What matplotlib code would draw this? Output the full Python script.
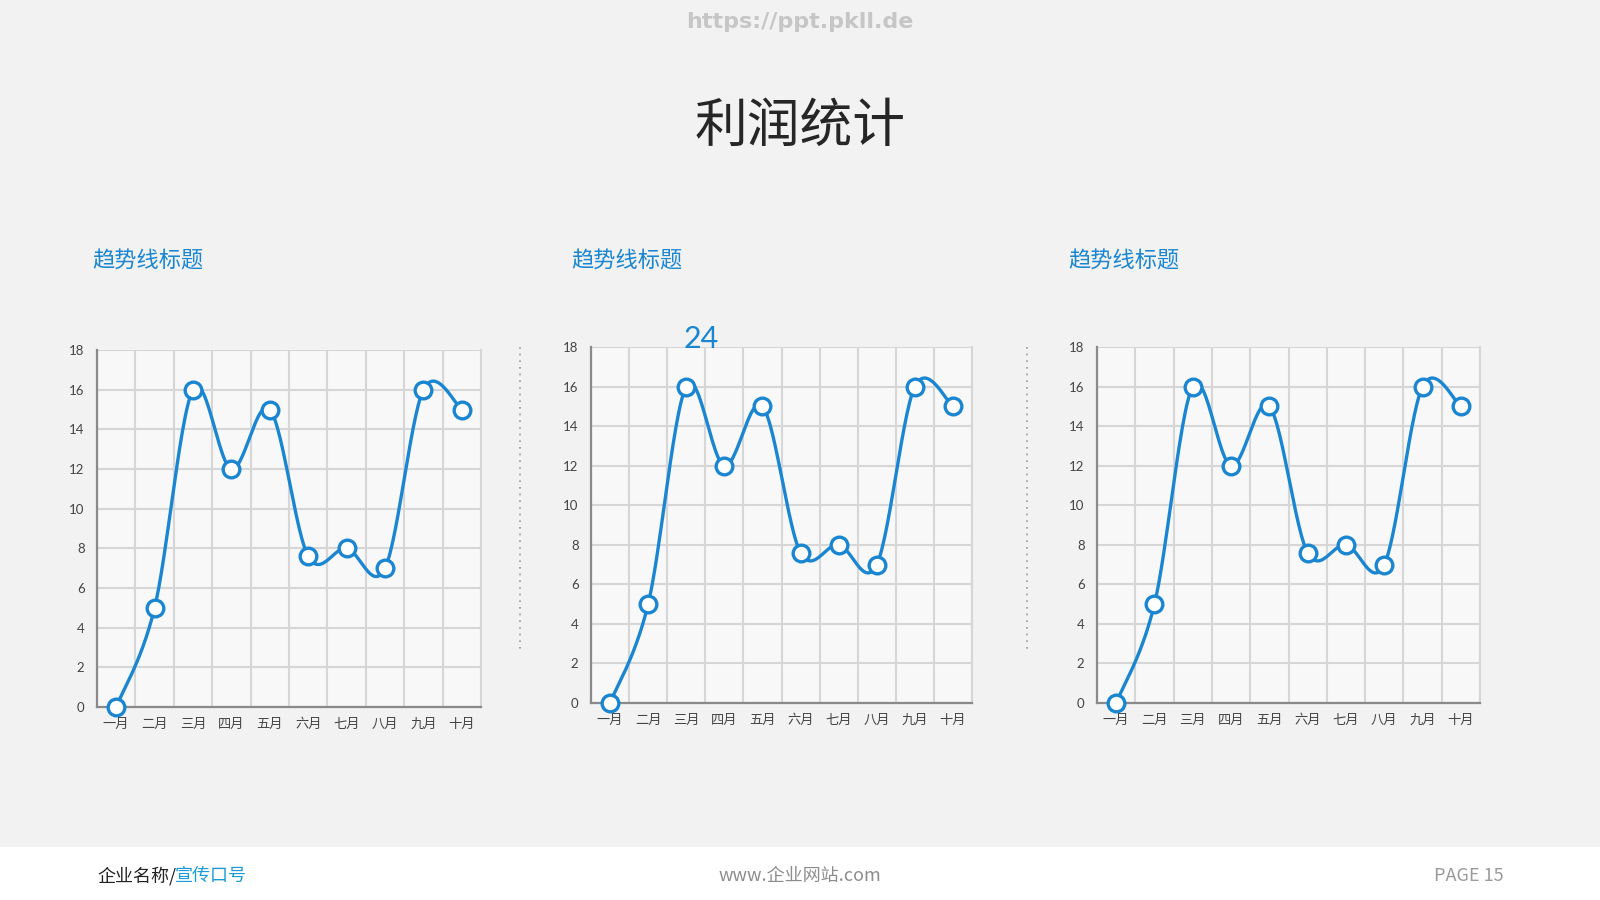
import numpy as np
import matplotlib.pyplot as plt
from matplotlib.lines import Line2D

plt.rcParams['font.family'] = ['Lato', 'Noto Sans CJK SC', 'DejaVu Sans']

months = ['一月', '二月', '三月', '四月', '五月', '六月', '七月', '八月', '九月', '十月']
profit = [0, 5, 16, 12, 15, 7.6, 8, 7, 16, 15]
yticks = [0, 2, 4, 6, 8, 10, 12, 14, 16, 18]
page_title = '利润统计'
chart_title = '趋势线标题'
callout = '24'

BLUE = '#1a86d2'
BG = '#f2f2f2'
GRID = '#d6d6d6'


def smooth(xs, ys, n=30):
    # Excel-like smoothed line: cubic Bezier with (P2-P0)/6 control points
    xs = np.asarray(xs, float)
    ys = np.asarray(ys, float)
    outx, outy = [], []
    m = len(xs)
    t = np.linspace(0, 1, n)
    for i in range(m - 1):
        i0 = max(i - 1, 0)
        i3 = min(i + 2, m - 1)
        p1 = np.array([xs[i], ys[i]])
        p2 = np.array([xs[i + 1], ys[i + 1]])
        c1 = p1 + (p2 - np.array([xs[i0], ys[i0]])) / 6
        c2 = p2 - (np.array([xs[i3], ys[i3]]) - p1) / 6
        pts = (np.outer((1 - t) ** 3, p1) + np.outer(3 * (1 - t) ** 2 * t, c1)
               + np.outer(3 * (1 - t) * t ** 2, c2) + np.outer(t ** 3, p2))
        outx.extend(pts[:, 0])
        outy.extend(pts[:, 1])
    return outx, outy


fig = plt.figure(figsize=(16, 9), dpi=100, facecolor=BG)

# footer band
fig.patches.append(plt.Rectangle((0, 0), 1, 1 - 847 / 900, transform=fig.transFigure,
                                 facecolor='white', edgecolor='none', zorder=0))

fig.text(0.5, 1 - 22 / 900, 'https://ppt.pkll.de', ha='center', va='center',
         fontsize=16, fontweight='bold', color='#c6c6c6', family='DejaVu Sans')
fig.text(0.5, 1 - 126 / 900, page_title, ha='center', va='center',
         fontsize=38, color='#262626', family='Noto Sans CJK SC')

positions = [
    (97, 350, 481, 707),
    (591, 347, 972, 703),
    (1097, 347, 1480, 703),
]
title_x = [92, 571, 1068]

x = np.arange(len(months))
for (l, t, r, b), tx in zip(positions, title_x):
    ax = fig.add_axes([l / 1600, 1 - b / 900, (r - l) / 1600, (b - t) / 900])
    ax.set_facecolor('#f8f8f8')
    sx, sy = smooth(x, profit)
    ax.plot(sx, sy, color=BLUE, lw=2.4, zorder=3, solid_capstyle='round', clip_on=False)
    ax.plot(x, profit, 'o', ms=12, mfc='white', mec=BLUE, mew=2.4, zorder=4, clip_on=False)
    ax.set_xlim(-0.5, len(months) - 0.5)
    ax.set_ylim(0, 18)
    ax.set_yticks(yticks)
    ax.set_yticklabels([str(v) for v in yticks])
    ax.set_xticks(x)
    ax.set_xticklabels(months, family='Noto Sans CJK SC')
    ax.set_xticks(np.arange(-0.5, len(months)), minor=True)
    ax.grid(True, which='minor', axis='x', color=GRID, lw=1.5, zorder=0)
    ax.grid(True, which='major', axis='y', color=GRID, lw=1.5, zorder=0)
    ax.tick_params(axis='both', which='both', length=0, labelsize=9.5, colors='#444444')
    ax.tick_params(axis='y', pad=9)
    ax.tick_params(axis='x', pad=8)
    ax.spines['top'].set_visible(False)
    ax.spines['right'].set_color(GRID)
    ax.spines['right'].set_linewidth(1.5)
    ax.spines['left'].set_color('#8a8a8a')
    ax.spines['bottom'].set_color('#8a8a8a')
    ax.spines['left'].set_linewidth(1.6)
    ax.spines['bottom'].set_linewidth(1.6)
    ax.set_axisbelow(True)
    fig.text(tx / 1600, 1 - 261 / 900, chart_title, ha='left', va='center',
             fontsize=16, color=BLUE, family='Noto Sans CJK SC')

fig.text(701 / 1600, 1 - 339 / 900, callout, ha='center', va='center',
         fontsize=22, color=BLUE)

for sxp in [520, 1027]:
    fig.add_artist(Line2D([sxp / 1600, sxp / 1600], [1 - 347 / 900, 1 - 651 / 900],
                          transform=fig.transFigure, color='#9a9a9a', lw=1.2,
                          linestyle=(0, (1, 3))))

fig.text(97 / 1600, 1 - 876 / 900, '企业名称/', ha='left', va='center',
         fontsize=13, color='#222222', family='Noto Sans CJK SC')
fig.text(175 / 1600, 1 - 876 / 900, '宣传口号', ha='left', va='center',
         fontsize=13, color='#1a9ad6', family='Noto Sans CJK SC')
fig.text(800 / 1600, 1 - 876 / 900, 'www.企业网站.com', ha='center', va='center',
         fontsize=13, color='#8c8c8c', family=['Noto Sans CJK SC', 'DejaVu Sans'])
fig.text(1504 / 1600, 1 - 876 / 900, 'PAGE 15', ha='right', va='center',
         fontsize=13, color='#9a9a9a', family='Noto Sans CJK SC')

fig.savefig('out.png', dpi=100, facecolor=BG)
